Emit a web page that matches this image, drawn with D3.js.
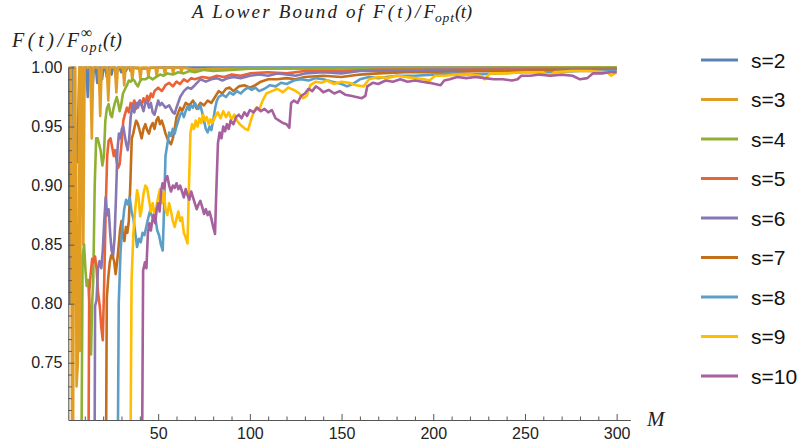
<!DOCTYPE html>
<html>
<head>
<meta charset="utf-8">
<script src="https://cdn.jsdelivr.net/npm/d3@7"></script>
<style>
  body { margin: 0; background: #fff; }
  svg { display: block; }
</style>
</head>
<body>
<svg id="chart" width="806" height="448"></svg>
<script>
// Ratio F(t)/F_opt(t) against M, one line per s.
const seriesNames = ["s=2", "s=3", "s=4", "s=5", "s=6", "s=7", "s=8", "s=9", "s=10"];
const seriesColors = ["#5E81B5", "#E19C24", "#8FB032", "#EB6235", "#8778B3",
                      "#C56E1A", "#5D9EC7", "#FFBF00", "#A5609D"];

// [M, ratio] pairs
const s2 = [[1,1],[2,0.80],[3,1],[4,1],[5,0.925],[6,0.92],[7,1],[8.2,1],[9,0.958],[9.8,1],[10.8,1],[11.6,0.975],
  [12.4,1],[13.4,1],[14.2,0.983],[15,1],[16,1],[16.8,0.987],[17.6,1],[18.6,1],[19.4,0.99],[20.2,1],[21.2,1],
  [22,0.992],[22.8,1],[23.8,1],[24.6,0.994],[25.4,1],[26.4,1],[27.2,0.995],[28,1],[29,1],[29.8,0.996],[30.6,1],
  [31.6,1],[32.4,0.997],[33.2,1],[34.2,1],[35,0.997],[35.8,1],[40,0.999],[50,1],[300,1]];

const s3 = [[1,1],[2.5,1],[3.3,0.55],[4.3,1],[4.8,1],[5.5,0.73],[6.2,0.75],[7,1],[7.3,0.76],[8,1],[8.6,1],
  [9.2,0.85],[9.9,1],[13,1],[13.8,0.94],[14.6,1],[17.6,1],[18.4,0.959],[19.2,1],[22,1],[22.8,0.972],[23.6,1],
  [26.4,1],[27.2,0.979],[28,1],[30.8,1],[31.5,0.985],[32.2,1],[35.2,1],[35.9,0.989],[36.6,1],[39.6,1],
  [40.3,0.99],[41,1],[44,1],[44.7,0.992],[45.4,1],[48.5,1],[49.2,0.993],[49.9,1],[53,1],[53.7,0.994],[54.4,1],
  [57.5,1],[58.2,0.995],[58.9,1],[62,1],[62.7,0.996],[63.4,1],[70,0.998],[80,0.999],[300,1]];

const s4 = [[7.5,0.5],[8.8,0.84],[9.6,0.85],[10.3,0.83],[11,0.815],[11.8,0.82],[12.5,0.80],[13.4,0.757],
  [14,0.80],[14.6,0.82],[15.4,0.90],[16.2,0.94],[17,0.94],[17.8,0.935],[18.6,0.93],[19.6,0.917],[20.4,0.925],
  [21.2,0.955],[22,0.965],[23,0.969],[24,0.96],[24.8,0.958],[25.6,0.965],[26.4,0.97],[27.4,0.975],[28.2,0.97],
  [29,0.963],[29.8,0.968],[30.8,0.978],[32,0.982],[33,0.985],[34,0.989],[35,0.988],[36,0.99],[37,0.989],
  [38,0.986],[39,0.984],[40,0.988],[41,0.99],[43,0.99],[45,0.992],[47,0.99],[49,0.992],[51,0.994],[53,0.993],
  [55,0.995],[58,0.994],[61,0.996],[64,0.995],[67,0.997],[70,0.996],[75,0.998],[80,0.997],[90,0.998],
  [100,0.999],[300,1]];

const s5 = [[11.5,0.5],[12.4,0.81],[13.2,0.825],[14,0.838],[14.8,0.835],[15.6,0.84],[16.4,0.83],[17.2,0.81],
  [18.2,0.797],[19,0.78],[19.8,0.769],[20.6,0.82],[21.4,0.88],[22.2,0.925],[23,0.938],[24,0.94],[25,0.932],
  [25.8,0.925],[26.6,0.93],[27.4,0.92],[28.2,0.915],[29,0.918],[30,0.935],[31,0.955],[32,0.961],[33,0.966],
  [34,0.962],[35,0.97],[36,0.968],[37,0.972],[38,0.965],[39,0.97],[40,0.972],[41,0.968],[42,0.974],[43,0.97],
  [44,0.976],[45,0.972],[46,0.978],[47,0.975],[48,0.98],[50,0.983],[52,0.98],[54,0.985],[56,0.987],[58,0.984],
  [60,0.988],[62,0.986],[64,0.99],[66,0.988],[68,0.991],[70,0.99],[74,0.992],[78,0.991],[82,0.993],[86,0.992],
  [90,0.994],[95,0.993],[100,0.995],[110,0.996],[120,0.995],[130,0.997],[150,0.997],[170,0.998],[200,0.998],
  [250,0.999],[300,0.999]];

const s6 = [[15,0.5],[15.6,0.798],[16.4,0.803],[17.2,0.83],[18,0.836],[19,0.83],[19.8,0.845],[20.6,0.87],
  [21.4,0.89],[22.2,0.875],[23,0.88],[23.8,0.86],[24.6,0.845],[25.4,0.84],[26.2,0.855],[27,0.89],[27.8,0.93],
  [28.6,0.944],[29.4,0.94],[30.2,0.948],[31,0.95],[31.8,0.942],[32.6,0.935],[33.4,0.93],[34.2,0.94],[35,0.958],
  [36,0.968],[37,0.962],[38,0.97],[39,0.966],[40,0.972],[41,0.968],[42,0.963],[43,0.97],[44,0.972],[45,0.966],
  [46,0.97],[47,0.962],[48,0.96],[49,0.966],[50,0.972],[51,0.968],[52,0.97],[54,0.966],[56,0.968],[58,0.962],
  [59,0.961],[60,0.966],[62,0.975],[64,0.98],[66,0.983],[68,0.982],[70,0.985],[73,0.99],[76,0.988],[79,0.99],
  [82,0.991],[85,0.989],[88,0.991],[91,0.992],[95,0.991],[100,0.993],[105,0.994],[110,0.993],[115,0.995],
  [120,0.994],[125,0.993],[130,0.995],[140,0.996],[150,0.995],[160,0.997],[180,0.997],[200,0.998],
  [250,0.998],[300,0.999]];

const s7 = [[21,0.5],[22,0.805],[22.8,0.822],[23.6,0.835],[24.4,0.841],[25.2,0.84],[26,0.836],[26.8,0.825],
  [27.6,0.835],[28.4,0.848],[29.2,0.862],[30,0.87],[30.8,0.858],[31.6,0.853],[32.4,0.865],[33.2,0.86],[34,0.87],
  [34.8,0.9],[35.6,0.94],[36.4,0.944],[37.2,0.95],[38,0.955],[39,0.952],[40,0.946],[41,0.94],[42,0.948],
  [43,0.952],[44,0.947],[45,0.944],[46,0.95],[47,0.953],[48,0.948],[49,0.955],[50,0.958],[51,0.952],[52,0.955],
  [53,0.95],[54,0.944],[55,0.94],[56,0.937],[57,0.935],[58,0.94],[59,0.948],[60,0.958],[61,0.962],[62,0.966],
  [63,0.963],[65,0.97],[67,0.968],[69,0.972],[71,0.965],[73,0.97],[75,0.968],[77,0.972],[79,0.97],[81,0.975],
  [83,0.98],[85,0.978],[87,0.982],[89,0.983],[91,0.98],[94,0.984],[97,0.985],[100,0.983],[103,0.985],
  [106,0.988],[110,0.99],[115,0.99],[120,0.991],[125,0.99],[130,0.992],[140,0.993],[150,0.992],[160,0.994],
  [170,0.995],[185,0.996],[200,0.996],[230,0.997],[260,0.998],[300,0.998]];

const s8 = [[27.3,0.5],[28.5,0.8],[29.5,0.845],[30.5,0.865],[31.5,0.88],[32.5,0.888],[33.5,0.884],[34.5,0.89],
  [35.5,0.878],[36.5,0.872],[37.5,0.86],[38.5,0.848],[39.5,0.855],[40.5,0.852],[41.5,0.86],[42.5,0.858],
  [43.5,0.865],[44.5,0.872],[45.5,0.878],[46.5,0.875],[47.5,0.87],[48.5,0.872],[49.5,0.862],[50.5,0.858],
  [51.5,0.85],[52.5,0.845],[53.2,0.88],[54,0.925],[55,0.935],[56,0.945],[57,0.942],[58,0.948],[59,0.944],
  [60,0.95],[61,0.955],[62,0.96],[63,0.962],[64,0.958],[65,0.963],[66,0.967],[67,0.964],[68,0.968],[69,0.966],
  [70,0.97],[71,0.967],[72,0.965],[73,0.968],[74,0.962],[75,0.955],[76,0.948],[77,0.945],[78,0.95],[79,0.947],
  [80,0.955],[81,0.965],[82,0.972],[83,0.975],[85,0.977],[87,0.975],[89,0.979],[91,0.977],[93,0.98],[95,0.978],
  [97,0.981],[99,0.983],[101,0.981],[103,0.983],[105,0.98],[108,0.982],[111,0.985],[114,0.984],[117,0.987],
  [120,0.986],[124,0.989],[128,0.99],[132,0.989],[136,0.991],[140,0.99],[145,0.988],[150,0.986],[153,0.984],
  [156,0.986],[160,0.99],[165,0.992],[170,0.991],[180,0.993],[190,0.993],[200,0.994],[210,0.995],[220,0.994],
  [235,0.995],[250,0.996],[265,0.996],[280,0.997],[300,0.997]];

const s9 = [[34.2,0.5],[35.5,0.82],[36.5,0.86],[37.5,0.88],[38.5,0.896],[39.3,0.89],[40.2,0.874],[41,0.88],
  [42,0.893],[43,0.9],[44,0.898],[45,0.888],[46,0.878],[47,0.885],[48,0.875],[49,0.882],[50,0.89],[51,0.897],
  [52,0.885],[53,0.895],[54,0.88],[55,0.875],[56,0.885],[57,0.878],[58,0.87],[59,0.865],[60,0.872],[61,0.878],
  [62,0.87],[63,0.873],[64,0.86],[65,0.856],[66,0.851],[66.8,0.9],[67.6,0.945],[68.5,0.952],[69.5,0.948],
  [70.5,0.955],[71.5,0.95],[72.5,0.957],[73.5,0.953],[74.5,0.96],[75.5,0.955],[76.5,0.958],[77.5,0.952],
  [78.5,0.956],[79.5,0.953],[81,0.958],[82.5,0.962],[84,0.957],[85.5,0.963],[87,0.958],[88.5,0.962],[90,0.956],
  [91.5,0.96],[93,0.955],[94.5,0.952],[96,0.95],[97.5,0.948],[99,0.947],[100.5,0.955],[102,0.962],[103.5,0.966],
  [105,0.964],[107,0.972],[109,0.978],[112,0.98],[115,0.982],[118,0.979],[121,0.983],[124,0.981],[127,0.978],
  [129,0.974],[131,0.976],[133,0.985],[136,0.988],[139,0.987],[142,0.989],[146,0.986],[150,0.988],[154,0.987],
  [158,0.985],[162,0.984],[165,0.99],[170,0.992],[175,0.991],[180,0.993],[185,0.992],[190,0.991],[195,0.99],
  [198,0.989],[201,0.993],[206,0.993],[212,0.994],[220,0.994],[226,0.993],[228,0.99],[231,0.995],[240,0.995],
  [250,0.996],[260,0.996],[263,0.993],[266,0.996],[275,0.997],[285,0.997],[295,0.996],[297,0.993],[300,0.996]];

const s10 = [[40.6,0.5],[41.8,0.828],[42.8,0.835],[43.6,0.83],[44.4,0.86],[45.2,0.868],[46,0.862],[46.8,0.87],
  [47.6,0.875],[48.4,0.868],[49.2,0.88],[50,0.885],[50.8,0.878],[51.6,0.895],[52.4,0.902],[53.2,0.898],
  [54,0.905],[55,0.908],[56,0.9],[57,0.895],[58,0.9],[59,0.898],[60,0.902],[61,0.897],[62,0.9],[63,0.895],
  [64,0.89],[65,0.897],[66,0.892],[67,0.888],[68,0.895],[69,0.89],[70,0.885],[71,0.88],[72,0.884],[73,0.887],
  [74,0.882],[75,0.876],[76,0.88],[77,0.875],[78,0.878],[79,0.872],[80,0.865],[81,0.859],[81.8,0.9],
  [82.6,0.936],[83.5,0.945],[84.5,0.94],[85.5,0.95],[86.5,0.946],[87.5,0.952],[88.5,0.948],[89.5,0.955],
  [91,0.952],[92.5,0.958],[94,0.96],[95.5,0.957],[97,0.962],[98.5,0.959],[100,0.964],[102,0.962],[104,0.966],
  [106,0.963],[108,0.965],[110,0.962],[112,0.964],[114,0.957],[116,0.955],[118,0.953],[120,0.952],
  [121.5,0.949],[122.5,0.97],[124,0.972],[126,0.97],[128,0.976],[130,0.978],[132,0.982],[134,0.98],
  [136,0.984],[138,0.982],[140,0.979],[143,0.981],[146,0.978],[149,0.98],[152,0.977],[155,0.976],[158,0.975],
  [161,0.974],[163,0.976],[164,0.984],[167,0.987],[170,0.986],[174,0.989],[178,0.988],[182,0.99],[186,0.988],
  [190,0.989],[194,0.988],[198,0.987],[201,0.986],[204,0.985],[206,0.989],[209,0.99],[213,0.992],[218,0.991],
  [223,0.992],[228,0.991],[233,0.99],[238,0.99],[243,0.989],[246,0.99],[248,0.993],[253,0.993],[258,0.994],
  [264,0.993],[270,0.994],[276,0.993],[280,0.99],[284,0.991],[287,0.995],[292,0.995],[296,0.996],[300,0.996]];

const allSeries = [s2, s3, s4, s5, s6, s7, s8, s9, s10];

const xMajorTicks = [50, 100, 150, 200, 250, 300];
const xMinorTicks = [10, 20, 30, 40, 60, 70, 80, 90, 110, 120, 130, 140, 160, 170, 180, 190,
                     210, 220, 230, 240, 260, 270, 280, 290];
const yMajorTicks = [0.75, 0.80, 0.85, 0.90, 0.95, 1.00];
const yMinorTicks = [0.71, 0.72, 0.73, 0.74, 0.76, 0.77, 0.78, 0.79, 0.81, 0.82, 0.83, 0.84,
                     0.86, 0.87, 0.88, 0.89, 0.91, 0.92, 0.93, 0.94, 0.96, 0.97, 0.98, 0.99];

const svg = d3.select("#chart");
const x = d3.scaleLinear().domain([1, 307.5]).range([68.3, 630.4]);
const y = d3.scaleLinear().domain([0.7015, 1]).range([420, 67.5]);

const axisColor = "#555";
const sansFont = "'Liberation Sans', Arial, sans-serif";
const serifFont = "'Liberation Serif', 'Times New Roman', serif";
const inkColor = "#222";

svg.append("clipPath").attr("id", "plotClip")
  .append("rect").attr("x", x(1)).attr("y", 60).attr("width", x(307.5) - x(1) + 2).attr("height", 420 - 60);

// Lines
const line = d3.line().x(d => x(d[0])).y(d => y(d[1]));
const lines = svg.append("g").attr("clip-path", "url(#plotClip)");
allSeries.forEach((data, i) => {
  lines.append("path")
    .datum(data)
    .attr("d", line)
    .attr("fill", "none")
    .attr("stroke", seriesColors[i])
    .attr("stroke-width", 2.6)
    .attr("stroke-linejoin", "round");
});

// Axes with inward ticks
function styleAxis(g) {
  g.select(".domain").attr("stroke", axisColor).attr("stroke-width", 1.1);
  g.selectAll(".tick line").attr("stroke", axisColor).attr("stroke-width", 1);
  g.selectAll(".tick text").attr("fill", inkColor).style("font-family", sansFont).style("font-size", "16px");
}

const xAxis = svg.append("g").attr("transform", `translate(0,${y(0.7015)})`)
  .call(d3.axisBottom(x).tickValues(xMajorTicks).tickSizeInner(-6).tickSizeOuter(0).tickPadding(8)
    .tickFormat(d3.format("d")));
styleAxis(xAxis);
const xMinor = svg.append("g").attr("transform", `translate(0,${y(0.7015)})`)
  .call(d3.axisBottom(x).tickValues(xMinorTicks).tickSizeInner(-3.5).tickSizeOuter(0).tickFormat(""));
xMinor.select(".domain").remove();
xMinor.selectAll(".tick line").attr("stroke", axisColor);

const yAxis = svg.append("g").attr("transform", `translate(${x(1)},0)`)
  .call(d3.axisLeft(y).tickValues(yMajorTicks).tickSizeInner(-6).tickSizeOuter(0).tickPadding(6)
    .tickFormat(d3.format(".2f")));
styleAxis(yAxis);
const yMinor = svg.append("g").attr("transform", `translate(${x(1)},0)`)
  .call(d3.axisLeft(y).tickValues(yMinorTicks).tickSizeInner(-3.5).tickSizeOuter(0).tickFormat(""));
yMinor.select(".domain").remove();
yMinor.selectAll(".tick line").attr("stroke", axisColor);

// Math-style text piece, stretched to a set width
function mathText(str, px, py, size, width, italic = true) {
  return svg.append("text")
    .attr("x", px).attr("y", py)
    .attr("textLength", width).attr("lengthAdjust", "spacing")
    .style("font-family", serifFont)
    .style("font-style", italic ? "italic" : "normal")
    .style("font-size", size + "px")
    .attr("fill", inkColor)
    .text(str);
}

// Title
mathText("A Lower Bound of", 192, 18, 19, 171);
mathText("F(t)/F", 373, 18, 19, 62);
mathText("opt", 435, 22, 13.5, 19);
mathText("(t)", 455, 18, 19, 17);

// Y axis label
mathText("F(t)/F", 12, 47, 20, 67);
mathText("∞", 81, 38, 16, 18, false);
mathText("opt", 81, 52, 14, 21);
mathText("(t)", 103, 47, 20, 19);

// Axis name
svg.append("text")
  .attr("x", 647).attr("y", 426)
  .style("font-family", serifFont).style("font-style", "italic").style("font-size", "21px")
  .attr("fill", inkColor).text("M");

// Legend
const legend = svg.append("g");
seriesNames.forEach((name, i) => {
  const ly = 60 + i * 39.5;
  legend.append("line")
    .attr("x1", 701).attr("x2", 738).attr("y1", ly).attr("y2", ly)
    .attr("stroke", seriesColors[i]).attr("stroke-width", 3);
  legend.append("text")
    .attr("x", 751).attr("y", ly + 7.5)
    .style("font-family", sansFont).style("font-size", "21px")
    .attr("fill", "#111").text(name);
});
</script>
</body>
</html>
